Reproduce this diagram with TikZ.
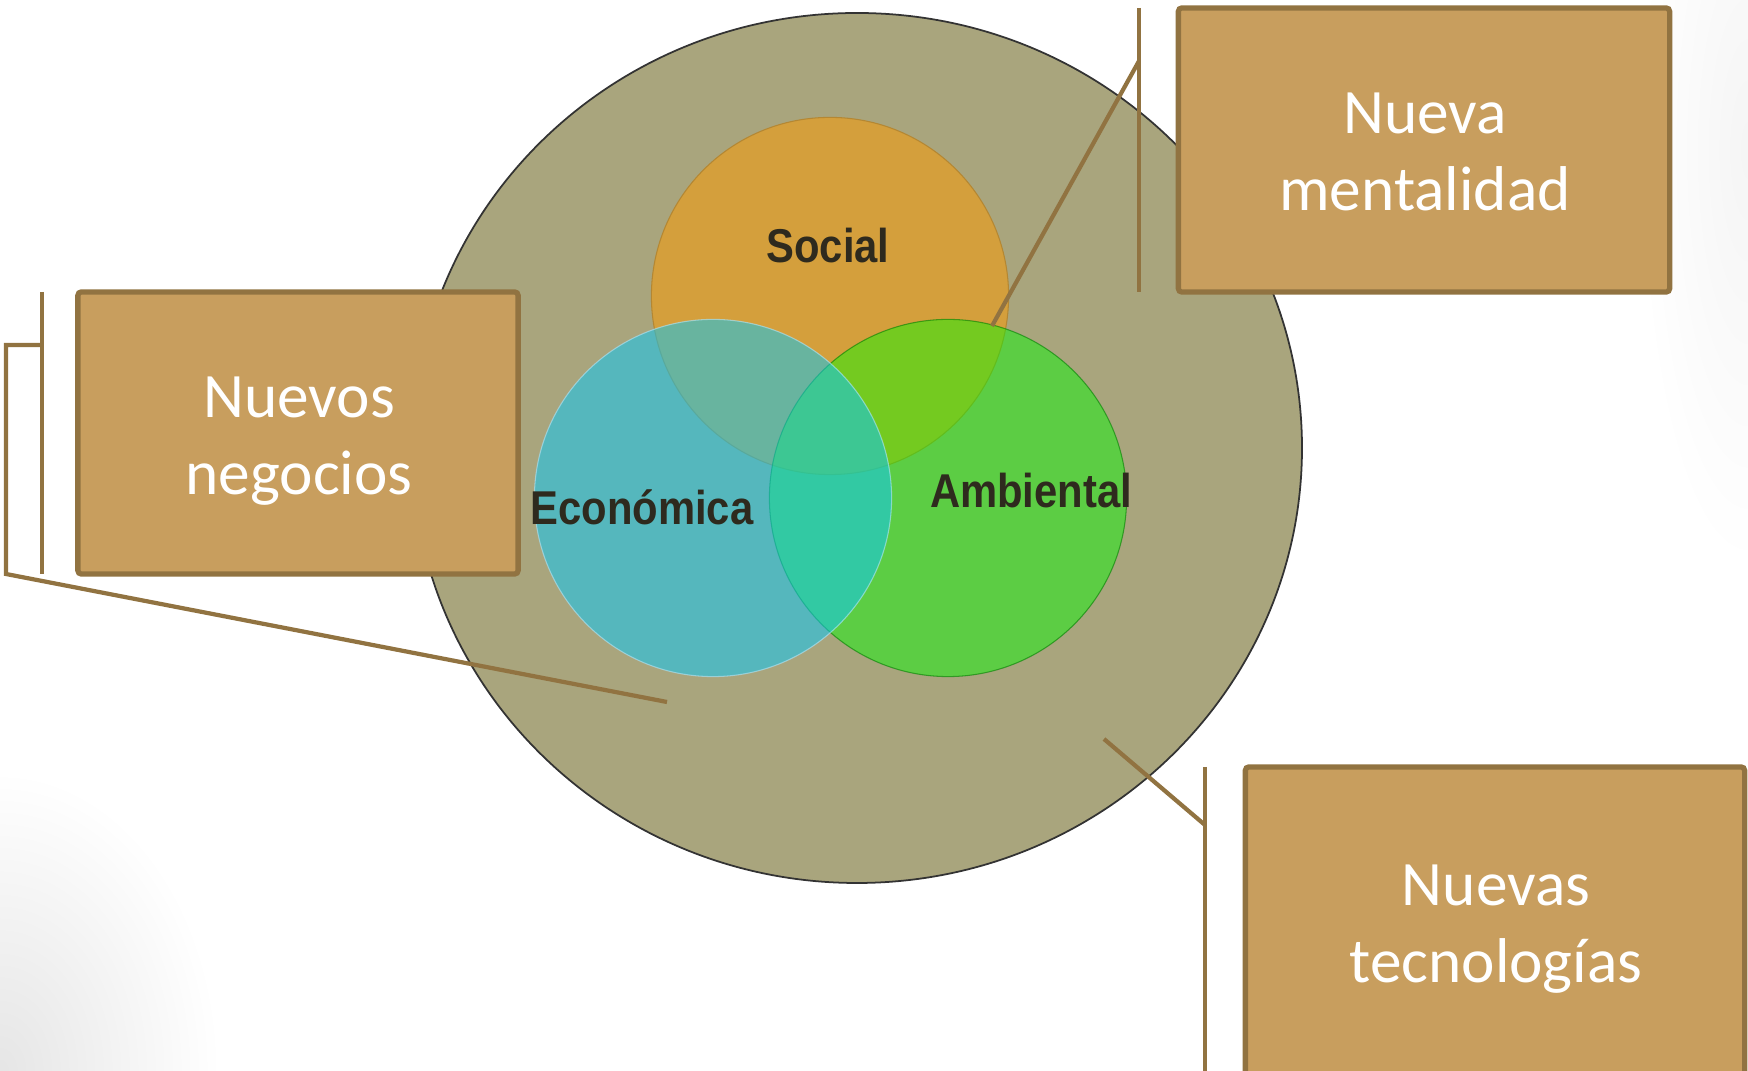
\documentclass[tikz,border=0pt]{standalone}
\usepackage{fontspec}
\usepackage{tikz}
\newfontfamily\boxfont{Carlito}
\newfontfamily\vennfont{Liberation Sans}[FakeStretch=0.88]

\definecolor{khaki}{RGB}{169,165,125}
\definecolor{socialor}{RGB}{212,159,60}
\definecolor{ecoteal}{RGB}{16,198,242}
\definecolor{ambgreen}{RGB}{0,255,0}
\definecolor{boxtan}{RGB}{200,158,94}
\definecolor{barbrown}{RGB}{145,115,65}
\definecolor{labeldark}{RGB}{46,42,30}

\tikzset{
  infobox/.style={draw=barbrown, line width=1.5pt, fill=boxtan, rounded corners=1pt, inner sep=0pt},
  boxtext/.style={text=white, align=center, inner sep=0pt, font=\boxfont\fontsize{18}{21.8}\selectfont},
  callout/.style={draw=barbrown, line width=1.2pt},
  venn/.style={circle, inner sep=0pt, minimum size=3.57cm, line width=0.3pt},
  vennlabel/.style={anchor=base, text=labeldark, font=\vennfont\bfseries\fontsize{13.5}{16}\selectfont}
}

\begin{document}
\begin{tikzpicture}[x=0.01cm,y=-0.01cm]
\useasboundingbox (0,0) rectangle (1748,1071);

% soft grey in the corners
\begin{scope}
\clip (0,0) rectangle (1748,1071);
\shade[inner color=gray!20, outer color=white] (0,1071) ellipse [x radius=220, y radius=300];
\shade[inner color=gray!8, outer color=white] (1748,150) ellipse [x radius=110, y radius=420];
\end{scope}

% outer ring
\draw[fill=khaki, draw=black!80, line width=0.5pt] (857,448) ellipse [x radius=445, y radius=435];

% the three circles
\node[venn, fill=socialor, draw=socialor!85!black] (social) at (830,296) {};
\node[venn, fill=ambgreen, fill opacity=0.45, draw=green!50!black, draw opacity=0.6] (ambiental) at (948,498) {};
\node[venn, fill=ecoteal, fill opacity=0.55, draw=cyan!30, draw opacity=0.6] (economica) at (713,498) {};

\node[vennlabel] (lsocial) at (828,263) {Social};
\node[vennlabel] (leco) at (642,525) {Económica};
\node[vennlabel] (lamb) at (1031,508) {Ambiental};

% callout lines
\coordinate (negbarA) at (42,292);
\coordinate (negbarB) at (42,574);
\coordinate (negA) at (42,345);
\coordinate (negB) at (6,345);
\coordinate (negC) at (6,574);
\coordinate (negtip) at (667,702);
\draw[callout] (negbarA) -- (negbarB);
\draw[callout] (negA) -- (negB) -- (negC) -- (negtip);

\coordinate (menbarA) at (1139,8);
\coordinate (menbarB) at (1139,292);
\coordinate (menA) at (1139,61);
\coordinate (mentip) at (992,326);
\draw[callout] (menbarA) -- (menbarB);
\draw[callout] (menA) -- (mentip);

\coordinate (tecbarA) at (1205,767);
\coordinate (tecbarB) at (1205,1075);
\coordinate (tecA) at (1205,825);
\coordinate (tectip) at (1104,739);
\draw[callout] (tecbarA) -- (tecbarB);
\draw[callout] (tecA) -- (tectip);

% boxes
\node[infobox, minimum width=4.40cm, minimum height=2.82cm] (negocios) at (298,433) {};
\node[infobox, minimum width=4.91cm, minimum height=2.84cm] (mentalidad) at (1424,150) {};
\node[infobox, minimum width=4.99cm, minimum height=3.10cm] (tecno) at (1495,922) {};
\node[boxtext] (negtext) at (299,441) {Nuevos\\negocios};
\node[boxtext] (mentext) at (1425,152) {Nueva\\mentalidad};
\node[boxtext] (tectext) at (1496,929) {Nuevas\\tecnologías};
\end{tikzpicture}
\end{document}
